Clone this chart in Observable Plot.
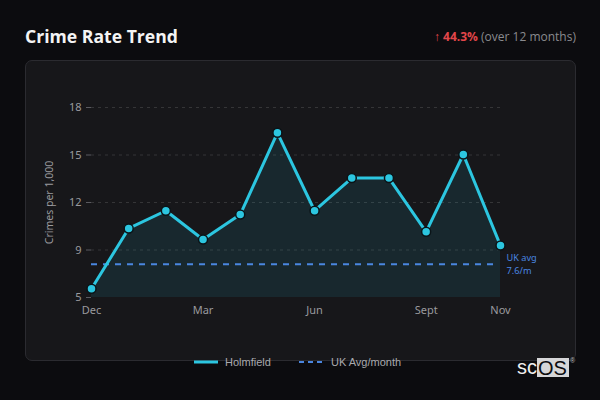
<!DOCTYPE html>
<html>
<head>
<meta charset="utf-8">
<script src="https://cdn.jsdelivr.net/npm/d3@7"></script>
<script src="https://cdn.jsdelivr.net/npm/@observablehq/plot@0.6"></script>
<style>
  html, body { margin: 0; padding: 0; }
  body { width: 600px; height: 400px; background: #0c0c0f; position: relative; overflow: hidden; font-family: "Open Sans", "Noto Sans", sans-serif; }
  .title { position: absolute; left: 25px; top: 26px; font-size: 17.6px; font-weight: 700; color: #f4f4f4; line-height: 20px; }
  .change { position: absolute; right: 24px; top: 29px; font-size: 12px; line-height: 16px; color: #8a8a8e; }
  .change b { color: #e2464a; font-weight: 700; }
  .change .arr { color: #e2464a; }
  .card { position: absolute; left: 25px; top: 60px; width: 551px; height: 301px; border: 1px solid #2b2b30; border-radius: 7px; background: #17171a; box-sizing: border-box; }
  #chart { position: absolute; left: 25px; top: 61px; }
  .legend { position: absolute; top: 355px; left: 0; font-family: "Liberation Sans", Arial, sans-serif; font-size: 11px; color: #a9a9ad; }
  .legend span { position: absolute; top: 1px; white-space: nowrap; }
  .legend svg { position: absolute; top: 0; }
  .logo { position: absolute; left: 517px; top: 357px; font-family: "Liberation Sans", Arial, sans-serif; font-size: 20px; line-height: 21px; color: #f0f0f0; white-space: nowrap; }
  .logo .os { display: inline-block; background: #d6d6d8; color: #0c0c0f; height: 19px; line-height: 20px; padding: 0 2px 0 1px; vertical-align: top; margin-top: 1px; }
  .logo sup { font-size: 7px; position: absolute; top: 0px; left: 53px; color: #bbb; line-height: 7px; }
</style>
</head>
<body>
<div class="title">Crime Rate Trend</div>
<div class="change"><span class="arr">↑</span> <b>44.3%</b> (over 12 months)</div>
<div class="card"></div>
<div id="chart"></div>
<div class="legend">
  <svg style="left:193px" width="26" height="14"><line x1="1" x2="25" y1="7" y2="7" stroke="#2cc6e0" stroke-width="3"/></svg>
  <span style="left:225px">Holmfield</span>
  <svg style="left:298px" width="26" height="14"><line x1="1" x2="25" y1="7" y2="7" stroke="#4a86e0" stroke-width="2" stroke-dasharray="5,4"/></svg>
  <span style="left:331px">UK Avg/month</span>
</div>
<div class="logo">sc<span class="os">OS</span><sup>®</sup></div>
<script>
const months = ["Dec","Jan","Feb","Mar","Apr","May","Jun","Jul","Aug","Sep","Oct","Nov"];
const holmfield = [6.55, 10.36, 11.48, 9.66, 11.24, 16.4, 11.48, 13.54, 13.54, 10.15, 15.03, 9.28];
const ukAvgLevel = 8.1;
const ukAvgLabelLines = ["UK avg", "7.6/m"];
const xTickIdx = [0, 3, 6, 9, 11];
const xTickLabels = ["Dec", "Mar", "Jun", "Sept", "Nov"];
const yTickValues = [6, 9, 12, 15, 18];
const yTickLabels = ["5", "9", "12", "15", "18"];
const yLabel = "Crimes per 1,000";

const data = holmfield.map((v, i) => ({i, month: months[i], v}));
const yBase = yTickValues[0];

const chart = Plot.plot({
  width: 550,
  height: 290,
  marginLeft: 66,
  marginRight: 75,
  marginTop: 46,
  marginBottom: 54,
  style: {background: "transparent", color: "#9a9a9e", fontSize: "11px", fontFamily: "'Noto Sans', 'Open Sans', sans-serif"},
  x: {domain: [0, 11]},
  y: {domain: [yBase, 18]},
  marks: [
    Plot.gridY(yTickValues.slice(1), {stroke: "#ffffff", strokeOpacity: 0.13, strokeDasharray: "3,4"}),
    Plot.areaY(data, {x: "i", y1: yBase, y2: "v", fill: "#2cc6e0", fillOpacity: 0.1}),
    Plot.ruleY([ukAvgLevel], {x1: 0, x2: 10.9, stroke: "#4a86e0", strokeWidth: 2, strokeDasharray: "6,6"}),
    Plot.line(data, {x: "i", y: "v", stroke: "#2cc6e0", strokeWidth: 3}),
    Plot.dot(data, {x: "i", y: "v", r: 4.5, fill: "#2cc6e0", stroke: "#0b1418", strokeWidth: 1.5}),
    Plot.text([ukAvgLabelLines[0]], {x: 11, y: ukAvgLevel, text: d => d, textAnchor: "start", dx: 6, dy: -6.3, fill: "#4a86e0", fontSize: 9.2}),
    Plot.text([ukAvgLabelLines[1]], {x: 11, y: ukAvgLevel, text: d => d, textAnchor: "start", dx: 6, dy: 6.4, fill: "#4a86e0", fontSize: 9.2}),
    Plot.axisY(yTickValues, {tickSize: 5, tickPadding: 5, stroke: "#5a5a60", tickFormat: d => yTickLabels[yTickValues.indexOf(d)], label: null}),
    Plot.axisX(xTickIdx, {tickSize: 0, tickPadding: 9, tickFormat: d => xTickLabels[xTickIdx.indexOf(d)], label: null}),
    Plot.text([yLabel], {frameAnchor: "left", rotate: -90, dx: -42, textAnchor: "middle", text: d => d, fontSize: 10.5, fill: "#9a9a9e"})
  ]
});
document.getElementById("chart").appendChild(chart);
</script>
</body>
</html>
